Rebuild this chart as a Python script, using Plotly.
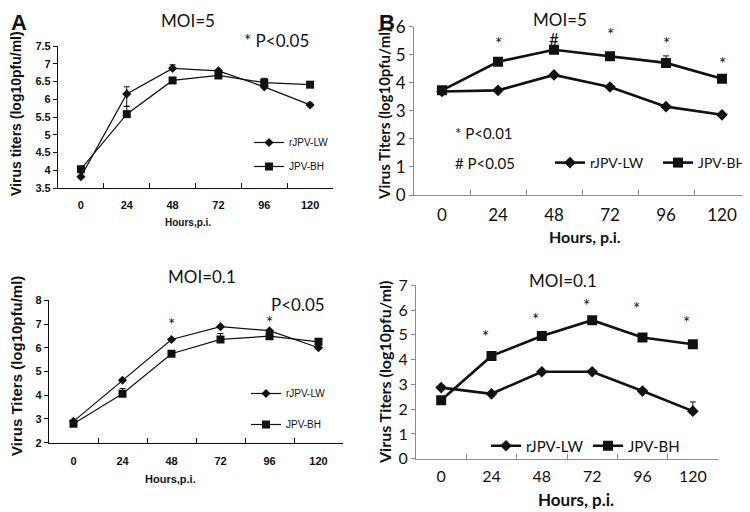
import plotly.graph_objects as go

hours = ["0", "24", "48", "72", "96", "120"]

# Panel A, MOI=5
a5_lw = [3.82, 6.15, 6.87, 6.80, 6.35, 5.84]
a5_lw_err_up = [0.0, 0.20, 0.10, 0.03, 0.05, 0.05]
a5_lw_err_dn = [0.0, 0.35, 0.0, 0.0, 0.0, 0.0]
a5_bh = [4.03, 5.58, 6.53, 6.67, 6.47, 6.41]
a5_bh_err_up = [0.0, 0.22, 0.0, 0.03, 0.12, 0.0]

# Panel A, MOI=0.1
a01_lw = [2.90, 4.63, 6.35, 6.89, 6.72, 6.00]
a01_bh = [2.80, 4.06, 5.75, 6.35, 6.49, 6.25]
a01_bh_err_up = [0.0, 0.22, 0.0, 0.25, 0.05, 0.0]
a01_mark_x = ["48", "96"]
a01_mark_y = [7.0, 7.05]

# Panel B, MOI=5
b5_lw = [3.69, 3.73, 4.28, 3.85, 3.15, 2.86]
b5_bh = [3.73, 4.75, 5.18, 4.95, 4.71, 4.14]
b5_bh_err_up = [0.0, 0.05, 0.05, 0.05, 0.25, 0.0]
b5_marks = ["*", "#", "*", "*", "*"]
b5_mark_x = ["24", "48", "72", "96", "120"]
b5_mark_y = [5.4, 5.56, 5.72, 5.4, 4.7]

# Panel B, MOI=0.1
b01_lw = [2.87, 2.62, 3.51, 3.51, 2.73, 1.92]
b01_lw_err_up = [0.0, 0.0, 0.0, 0.0, 0.0, 0.37]
b01_bh = [2.36, 4.15, 4.95, 5.59, 4.89, 4.62]
b01_mark_x = ["24", "48", "72", "96", "120"]
b01_mark_y = [4.93, 5.63, 6.18, 6.08, 5.48]

BLACK = "#111111"
GREY = "#8a8a8a"
AFONT = "Liberation Sans"
BFONT = "Lato"
W, H, OFF = 750, 512, 8


def fx(p):
    return (p - OFF) / W


def fy(p):
    return 1 - (p - OFF) / H


fig = go.Figure()


def add_pair(lw, bh, xa, ya, legend, lw_w, msize, lw_err=None, lw_err_dn=None, bh_err=None):
    ek = dict(type="data", symmetric=False, color=BLACK, thickness=1, width=3)
    e1 = None
    if lw_err is not None:
        e1 = dict(ek, array=lw_err, arrayminus=lw_err_dn if lw_err_dn else [0] * 6)
    e2 = None
    if bh_err is not None:
        e2 = dict(ek, array=bh_err, arrayminus=[0] * 6)
    fig.add_trace(go.Scatter(
        x=hours, y=lw, name="rJPV-LW", xaxis=xa, yaxis=ya, legend=legend,
        legendgroup=legend + "lw",
        mode="lines+markers", line=dict(color=BLACK, width=lw_w),
        marker=dict(symbol="diamond", size=msize, color=BLACK), error_y=e1))
    fig.add_trace(go.Scatter(
        x=hours, y=bh, name="JPV-BH", xaxis=xa, yaxis=ya, legend=legend,
        legendgroup=legend + "bh",
        mode="lines+markers", line=dict(color=BLACK, width=lw_w),
        marker=dict(symbol="square", size=msize + 1, color=BLACK), error_y=e2))


add_pair(a5_lw, a5_bh, "x", "y", "legend", 1.2, 7, a5_lw_err_up, a5_lw_err_dn, a5_bh_err_up)
add_pair(b5_lw, b5_bh, "x2", "y2", "legend2", 2.6, 9, None, None, b5_bh_err_up)
add_pair(a01_lw, a01_bh, "x3", "y3", "legend3", 1.2, 7, None, None, a01_bh_err_up)
add_pair(b01_lw, b01_bh, "x4", "y4", "legend4", 2.6, 9, b01_lw_err_up, None, None)

afont_tick = dict(family=AFONT, size=11, color=BLACK, weight="bold")


def xax(domain, anchor, font, lcolor, lstand):
    return dict(domain=domain, anchor=anchor, type="category", range=[-0.5, 5.5],
                automargin=False,
                showline=True, linecolor=lcolor, linewidth=1.2, ticks="inside",
                tickson="boundaries", ticklen=5, tickcolor=lcolor, showgrid=False,
                zeroline=False, tickfont=font, ticklabelstandoff=lstand)


def yax(domain, anchor, rng, dtick, font, lcolor):
    return dict(domain=domain, anchor=anchor, range=rng, dtick=dtick,
                automargin=False,
                showline=True, linecolor=lcolor, linewidth=1.2, ticks="outside",
                ticklen=4, tickcolor=lcolor, showgrid=False, zeroline=False,
                tickfont=font)


def leg(xp, yp, size, family, horiz=False, gap=5, ew=60):
    d = dict(x=fx(xp), y=fy(yp), xref="container", yref="container", xanchor="left",
             yanchor="middle", bgcolor="rgba(0,0,0,0)",
             font=dict(family=family, size=size, color=BLACK), itemwidth=30,
             traceorder="grouped", tracegroupgap=gap)
    if horiz:
        d.update(orientation="h", entrywidth=ew)
    return d


fig.update_layout(
    width=W, height=H, margin=dict(l=0, r=0, t=0, b=0, autoexpand=False),
    paper_bgcolor="white", plot_bgcolor="white", showlegend=True,
    xaxis=xax([fx(58), fx(333)], "y", afont_tick, BLACK, 7),
    yaxis=yax([fy(188), fy(46)], "x", [3.5, 7.5], 0.5, afont_tick, BLACK),
    xaxis2=xax([fx(414), fx(750)], "y2", dict(family=BFONT, size=17, color=BLACK), GREY, 4),
    yaxis2=yax([fy(195), fy(26.7)], "x2", [0, 6], 1,
               dict(family=BFONT, size=17, color=BLACK), GREY),
    xaxis3=xax([fx(49), fx(343)], "y3", afont_tick, BLACK, 8),
    yaxis3=yax([fy(442.7), fy(300.3)], "x3", [2, 8], 1, afont_tick, BLACK),
    xaxis4=xax([fx(416), fx(718)], "y4", dict(family=BFONT, size=16, color=BLACK), GREY, 3),
    yaxis4=yax([fy(458.7), fy(285.3)], "x4", [0, 7], 1,
               dict(family=BFONT, size=16, color=BLACK), GREY),
    legend=leg(249, 154.5, 10, AFONT),
    legend2=leg(550, 163, 14, BFONT, True, ew=63),
    legend3=leg(246, 409, 10, AFONT, gap=12),
    legend4=leg(486, 446, 15, BFONT, True, ew=57),
)


def txt(text, xp, yp, size, family=BFONT, xanchor="center", bold=False, angle=0,
        yanchor="middle"):
    return dict(text=text, x=fx(xp), y=fy(yp),
                xref="paper", yref="paper", xanchor=xanchor, yanchor=yanchor,
                textangle=angle, showarrow=False,
                font=dict(family=family, size=size, color=BLACK,
                          weight="bold" if bold else "normal"))


ann = [
    txt("A", 9, 8, 22, AFONT, xanchor="left", yanchor="top", bold=True),
    txt("B", 377, 8, 22, AFONT, xanchor="left", yanchor="top", bold=True),
    txt("MOI=5", 188, 20, 17),
    txt("* P<0.05", 276, 40, 17),
    txt("MOI=0.1", 202, 276, 17),
    txt("P<0.05", 298, 304, 17),
    txt("MOI=5", 560, 19, 17),
    txt("MOI=0.1", 563, 280, 17),
    txt("* P<0.01", 453, 133, 15, xanchor="left"),
    txt("# P<0.05", 453, 163, 15, xanchor="left"),
    # axis titles
    txt("Virus titers (log10pfu/ml)", 16, 114, 14, AFONT, bold=True, angle=-90),
    txt("Hours,p.i.", 188, 222, 10, AFONT, bold=True),
    txt("Virus Titers (log10pfu/ml)", 16, 366, 15, AFONT, bold=True, angle=-90),
    txt("Hours,p.i.", 170, 479, 11, AFONT, bold=True),
    txt("Virus Titers (log10pfu/ml)", 384, 114, 15, BFONT, bold=True, angle=-90),
    txt("Hours, p.i.", 585, 236, 16, BFONT, bold=True),
    txt("Virus Titers (log10pfu/ml)", 384, 373, 16, BFONT, bold=True, angle=-90),
    txt("Hours, p.i.", 576, 499, 17, BFONT, bold=True),
]
for t, xv, yv in zip(b5_marks, b5_mark_x, b5_mark_y):
    ann.append(dict(text=t, x=hours.index(xv), y=yv, xref="x2", yref="y2", showarrow=False,
                    font=dict(family=BFONT, size=17, color=BLACK)))
for xv, yv in zip(b01_mark_x, b01_mark_y):
    ann.append(dict(text="*", x=hours.index(xv), y=yv, xref="x4", yref="y4", showarrow=False,
                    xshift=-6, font=dict(family=BFONT, size=17, color=BLACK)))
for xv, yv in zip(a01_mark_x, a01_mark_y):
    ann.append(dict(text="*", x=hours.index(xv), y=yv, xref="x3", yref="y3", showarrow=False,
                    font=dict(family=BFONT, size=17, color=BLACK)))
fig.update_layout(annotations=ann)

fig.write_html("out.html")
